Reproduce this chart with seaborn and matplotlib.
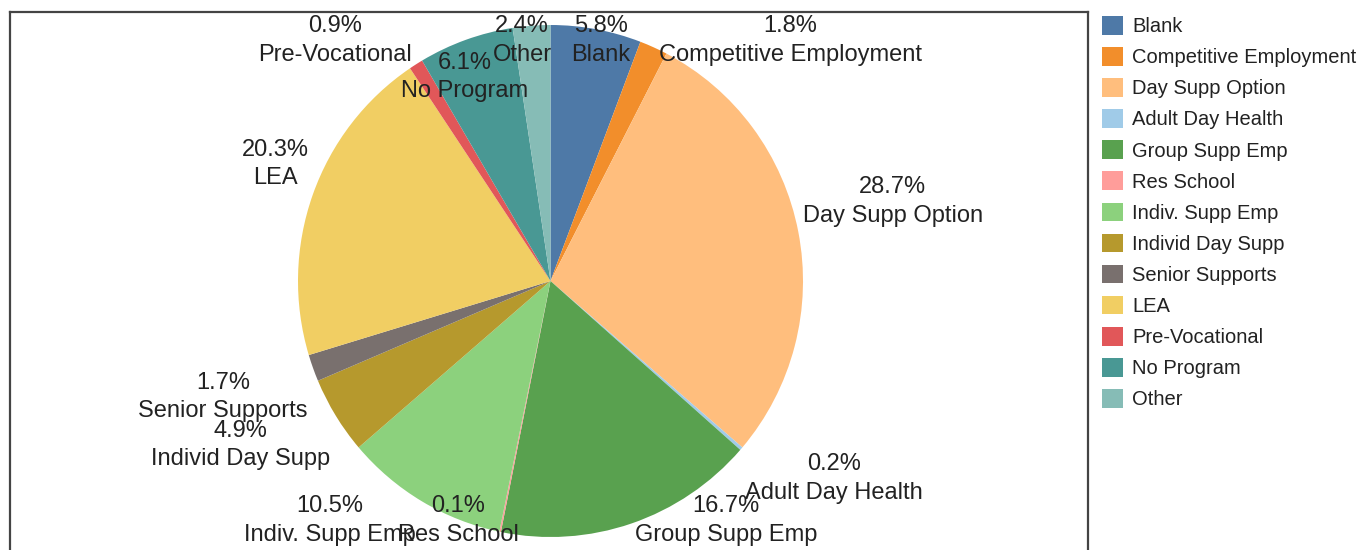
import matplotlib
matplotlib.use("Agg")
import matplotlib.pyplot as plt
from matplotlib.patches import Patch
import seaborn as sns

# categories in drawing order (clockwise from 12 o'clock)
programs = ["Blank", "Competitive Employment", "Day Supp Option", "Adult Day Health",
            "Group Supp Emp", "Res School", "Indiv. Supp Emp", "Individ Day Supp",
            "Senior Supports", "LEA", "Pre-Vocational", "No Program", "Other"]
shares = [5.8, 1.8, 28.7, 0.2, 16.7, 0.1, 10.5, 4.9, 1.7, 20.3, 0.9, 6.1, 2.4]
colors = ["#4e79a7", "#f28e2b", "#ffbe7d", "#a0cbe8", "#59a14f", "#ff9d9a", "#8cd17d",
          "#b6992d", "#79706e", "#f1ce63", "#e15759", "#499894", "#86bcb6"]

# where each label block sits (pie radius = 1)
label_pos = [(0.200, 0.941), (0.950, 0.941), (1.356, 0.309), (1.123, -0.773),
             (0.695, -0.934), (-0.366, -0.934), (-0.873, -0.934), (-1.226, -0.641),
             (-1.297, -0.453), (-1.091, 0.457), (-0.853, 0.941), (-0.339, 0.797),
             (-0.113, 0.941)]

sns.set_style("white")
plt.rcParams["font.family"] = ["Liberation Sans", "DejaVu Sans"]

W, H = 1371, 550
fig = plt.figure(figsize=(W / 100, H / 100), dpi=100)
# frame box: x 10..1088 px, top at 12 px, bottom below the image edge
ax = fig.add_axes([10 / W, (H - 560) / H, (1088 - 10) / W, (560 - 12) / H])

ax.pie(shares, colors=colors, startangle=90, counterclock=False, radius=1,
       wedgeprops=dict(linewidth=0))
ax.set_aspect("auto")
cx, cy, rx, ry = 550.5, 281, 252.5, 256
ax.set_xlim((10 - cx) / rx, (1088 - cx) / rx)
ax.set_ylim((cy - 560) / ry, (cy - 12) / ry)
ax.set_frame_on(True)
for s in ax.spines.values():
    s.set_visible(True)
    s.set_color("#444444")
    s.set_linewidth(1.6)
ax.set_xticks([])
ax.set_yticks([])

for name, val, (x, y) in zip(programs, shares, label_pos):
    ax.text(x, y, f"{val}%\n{name}", ha="center", va="center", fontsize=17,
            color="#222222", linespacing=1.4)

handles = [Patch(facecolor=c, edgecolor="none") for c in colors]
fig.legend(handles, programs, loc="upper left",
           bbox_to_anchor=(1102 / W, (H - 16) / H), frameon=False,
           fontsize=14.5, handlelength=1.05, handleheight=1.05,
           handletextpad=0.45, labelspacing=0.54, borderpad=0, borderaxespad=0,
           labelcolor="#222222")

fig.savefig("out.png", dpi=100)
